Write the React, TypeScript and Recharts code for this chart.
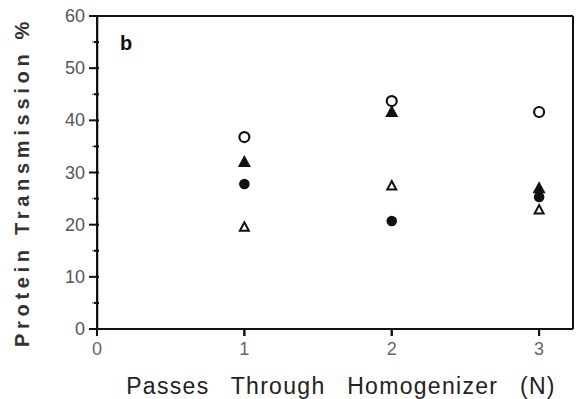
import { ScatterChart, Scatter, XAxis, YAxis, ReferenceLine } from "recharts"

const passes = [1, 2, 3]
const openCircle = [36.8, 43.7, 41.6]
const filledTriangle = [32, 41.6, 27]
const filledCircle = [27.8, 20.7, 25.3]
const openTriangle = [19.5, 27.4, 22.8]

const yTicks = [0, 5, 10, 15, 20, 25, 30, 35, 40, 45, 50, 55, 60]
const xTicks = [0, 1, 2, 3]
const xMax = 3.23

const toPoints = (vals: number[]) => passes.map((p, i) => ({ x: p, y: vals[i] }))

const font = "'Liberation Sans', Arial, sans-serif"

// major ticks at every 10 get a longer mark and a label, minor ones only a short mark
function YTick(props: any) {
  const { x, y, payload } = props
  const major = payload.value % 10 === 0
  return (
    <g>
      <line x1={major ? x + 2 : x + 7} x2={x + 12} y1={y} y2={y} stroke="#111" strokeWidth={2} />
      {major && (
        <text x={x - 2} y={y} dy={6} textAnchor="end" fontSize={18} fill="#555" fontFamily={font}>
          {payload.value}
        </text>
      )}
    </g>
  )
}

function XTick(props: any) {
  const { x, y, payload } = props
  return (
    <g>
      <line x1={x} x2={x} y1={y - 9} y2={y - 2} stroke="#111" strokeWidth={2} />
      <text x={x} y={y} dy={17} textAnchor="middle" fontSize={18} fill="#666" fontFamily={font}>
        {payload.value}
      </text>
    </g>
  )
}

const OpenCircle = (p: any) => <circle cx={p.cx} cy={p.cy} r={5} fill="#fff" stroke="#111" strokeWidth={2.2} />
const FilledCircle = (p: any) => <circle cx={p.cx} cy={p.cy} r={5.3} fill="#111" />
const FilledTriangle = (p: any) => (
  <polygon points={`${p.cx},${p.cy - 7} ${p.cx + 6.5},${p.cy + 5} ${p.cx - 6.5},${p.cy + 5}`} fill="#111" />
)
const OpenTriangle = (p: any) => (
  <polygon
    points={`${p.cx},${p.cy - 5} ${p.cx + 4.5},${p.cy + 3.5} ${p.cx - 4.5},${p.cy + 3.5}`}
    fill="#fff"
    stroke="#111"
    strokeWidth={2}
  />
)

function YLabel() {
  return (
    <text
      x={24}
      y={182}
      transform="rotate(-90 24 182)"
      textAnchor="middle"
      dominantBaseline="middle"
      fontSize={20}
      fontWeight="bold"
      fill="#333"
      fontFamily={font}
      letterSpacing={4.7}
    >
      Protein Transmission %
    </text>
  )
}

function XLabel() {
  return (
    <text
      x={341}
      y={394}
      textAnchor="middle"
      fontSize={23}
      fill="#222"
      fontFamily={font}
      letterSpacing={1.3}
      wordSpacing={14}
    >
      Passes Through Homogenizer (N)
    </text>
  )
}

export default function App() {
  return (
    <div style={{ position: "absolute", left: 0, top: 0, width: 577, height: 399, background: "#fff" }}>
      <ScatterChart width={577} height={399} margin={{ top: 16, right: 4, left: 0, bottom: 0 }}>
        <XAxis
          type="number"
          dataKey="x"
          domain={[0, xMax]}
          ticks={xTicks}
          height={70}
          stroke="#111"
          strokeWidth={2}
          tickSize={7}
          tickMargin={2}
          tick={<XTick />}
          label={<XLabel />}
        />
        <YAxis
          type="number"
          dataKey="y"
          domain={[0, 60]}
          ticks={yTicks}
          width={97}
          axisLine={{ stroke: "#111", strokeWidth: 2 }}
          tickSize={5}
          tickMargin={5}
          tick={<YTick />}
          label={<YLabel />}
        />
        {/* frame: bottom/left drawn again just inside zero in case the axis line gets lost */}
        <ReferenceLine y={0.02} stroke="#111" strokeWidth={2} />
        <ReferenceLine x={0.002} stroke="#111" strokeWidth={2} />
        <ReferenceLine y={60} stroke="#111" strokeWidth={2} />
        <ReferenceLine x={xMax} stroke="#111" strokeWidth={2} />
        <Scatter data={toPoints(openCircle)} shape={<OpenCircle />} isAnimationActive={false} />
        <Scatter data={toPoints(openTriangle)} shape={<OpenTriangle />} isAnimationActive={false} />
        <Scatter data={toPoints(filledTriangle)} shape={<FilledTriangle />} isAnimationActive={false} />
        <Scatter data={toPoints(filledCircle)} shape={<FilledCircle />} isAnimationActive={false} />
      </ScatterChart>
      <div style={{ position: "absolute", left: 120, top: 32, fontFamily: font, fontSize: 20, fontWeight: "bold", color: "#111" }}>b</div>
    </div>
  )
}
